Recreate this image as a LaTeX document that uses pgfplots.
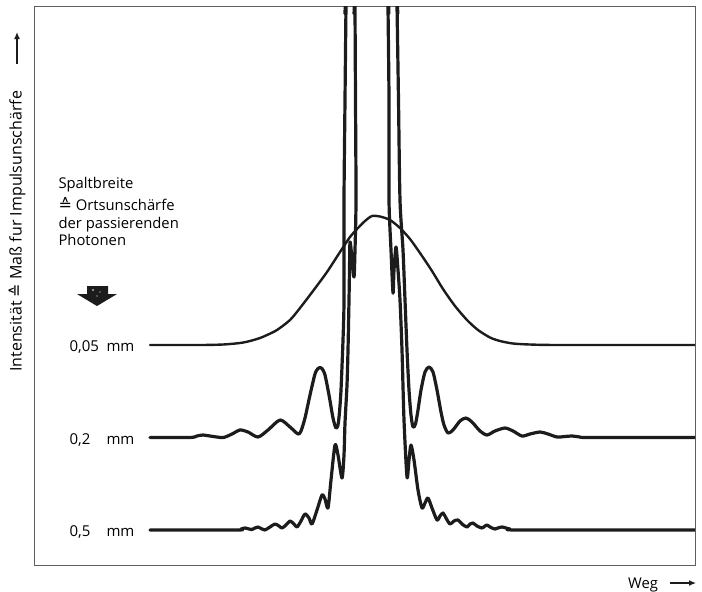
\documentclass[border=0pt]{standalone}
\usepackage{fontspec}
\setmainfont{Open Sans}
\newfontfamily\symfont{DejaVu Sans}
\usepackage{pgfplots}
\pgfplotsset{compat=1.18}
\usetikzlibrary{arrows.meta}

\definecolor{ink}{RGB}{28,28,28}
\definecolor{framegray}{RGB}{95,95,95}
\newcommand{\corr}{{\symfont\fontsize{16}{17}\selectfont ≙}}

% curves: x = position (Weg), y = height on the page (downwards)
\pgfplotstableread{
x y
150 345
200 345
223 344.5
240 343
250 341
260 338
267 335
277 330
290 320
300 308
313 291
327 272
340 252
350 237
358 228
365 221
372 216
380 216.5
390 220
400 228
410 239
420 253
432 271
443 289
455 306
467 320
478 330
490 337.5
500 341
513 343.5
530 344.5
560 345
695 345
}\spaltA

\pgfplotstableread{
x y
150 437.5
190 437.5
197 436
203 435
210 436
223 437.5
232 434
240 430
248 432
258 437
268 430
280 420
290 427
298 434
301 431
305 418
310 395
315 374
318 368.5
320 367.5
322 368.5
325 375
329 395
333 418
336 428
338 425
339.5 412
341 390
343 340
344 300
344 200
345 100
346 6
346.5 -10
374 -400
396.5 -10
397 6
398.5 100
400 200
403 250
405 300
407 350
409 390
411 415
413 427
415.5 424
418 410
421 390
425 372
429 367
433 372
437 390
441 412
444 425
448 433
453 430
460 421
466 418
472 422
480 431
487 435
495 431
505 428
513 431
522 436
530 434
540 432
548 434
557 437
565 436.5
572 436
580 437
590 437.5
695 437.5
}\spaltB

\pgfplotstableread{
x y
150 530
237 530
241 529
245 528
249 529
252 529.5
255 528
258 527
262 529
265 530
270 527
275 524
279 526
282 528
286 525
290 521
294 524
297 527
301 521
305 514
309 518
312 524
317 510
322 495
325 499
328 508
331 480
335 445
338 455
342 478
344 455
345 423
347 385
348 350
349 300
349.5 270
350 242
352 258
354 277
355 250
356 200
355.5 100
355 6
355 -10
372 -400
388 -10
388 6
389 100
389 200
391 250
393 293
394 270
396 247
398 270
400 300
402 350
404 420
407 477
409 460
411 445
414 460
418 490
422 508
425 503
428 498
432 508
437 520
440 516
443 513
446 518
450 524
454 521
458 520
462 524
467 527
470 524
473 523
477 526
482 528
485 526
487 525
491 527.5
495 529
498 528
502 527
510 529
520 530
695 530
}\spaltC

\begin{document}
\begin{tikzpicture}
\begin{axis}[
  scale only axis,
  width=661pt, height=559pt,
  xmin=34, xmax=695,
  ymin=6, ymax=565,
  y dir=reverse,
  xtick=\empty, ytick=\empty,
  axis line style={framegray, line width=0.9pt},
  clip mode=individual,
  every axis plot/.append style={ink, smooth, tension=0.45, line join=round, line cap=round},
]
\addplot[line width=2.4pt] table {\spaltA};
\addplot[line width=3.2pt] table {\spaltB};
\addplot[line width=3.2pt] table {\spaltC};

% text and labels
\node[anchor=base west, font=\fontsize{14.8}{17}\selectfont] at (axis cs:55,188) {Spaltbreite};
\node[anchor=base west, font=\fontsize{14.8}{17}\selectfont] at (axis cs:55,210) {\corr\ Ortsunschärfe};
\node[anchor=base west, font=\fontsize{14.8}{17}\selectfont] at (axis cs:55,228) {der passierenden};
\node[anchor=base west, font=\fontsize{14.8}{17}\selectfont] at (axis cs:55,245) {Photonen};

\fill[ink] (axis cs:87,286) -- (axis cs:108,286) -- (axis cs:108,294) -- (axis cs:117,294)
  -- (axis cs:97,306) -- (axis cs:77,294) -- (axis cs:87,294) -- cycle;
\fill[white] (axis cs:93,290) circle (0.8pt) (axis cs:100,292) circle (0.7pt) (axis cs:97,296) circle (0.6pt);

\node[anchor=base west, font=\fontsize{15}{18}\selectfont] at (axis cs:66,351) {0,05};
\node[anchor=base west, font=\fontsize{15}{18}\selectfont] at (axis cs:66,444) {0,2};
\node[anchor=base west, font=\fontsize{15}{18}\selectfont] at (axis cs:66,536) {0,5};
\node[anchor=base west, font=\fontsize{15}{18}\selectfont] at (axis cs:103,351) {mm};
\node[anchor=base west, font=\fontsize{15}{18}\selectfont] at (axis cs:103,444) {mm};
\node[anchor=base west, font=\fontsize{15}{18}\selectfont] at (axis cs:103,536) {mm};

\node[rotate=90, anchor=west, inner sep=0pt, font=\fontsize{16}{19}\selectfont]
  at (axis cs:17,372) {Intensität \corr\ Maß fur Impulsunschärfe};
\draw[ink, line width=1.3pt, -{Latex[length=7pt,width=6pt]}]
  (axis cs:17,64) -- (axis cs:17,32);

\node[anchor=base west, inner sep=0pt, font=\fontsize{14.8}{17}\selectfont]
  at (axis cs:628,588) {Weg};
\draw[ink, line width=1.3pt, -{Latex[length=7pt,width=6pt]}]
  (axis cs:670,583) -- (axis cs:696,583);

\coordinate (tl) at (axis cs:0,0);
\coordinate (br) at (axis cs:702,592);
\end{axis}
\pgfresetboundingbox
\path (tl) rectangle (br);
\end{tikzpicture}
\end{document}
